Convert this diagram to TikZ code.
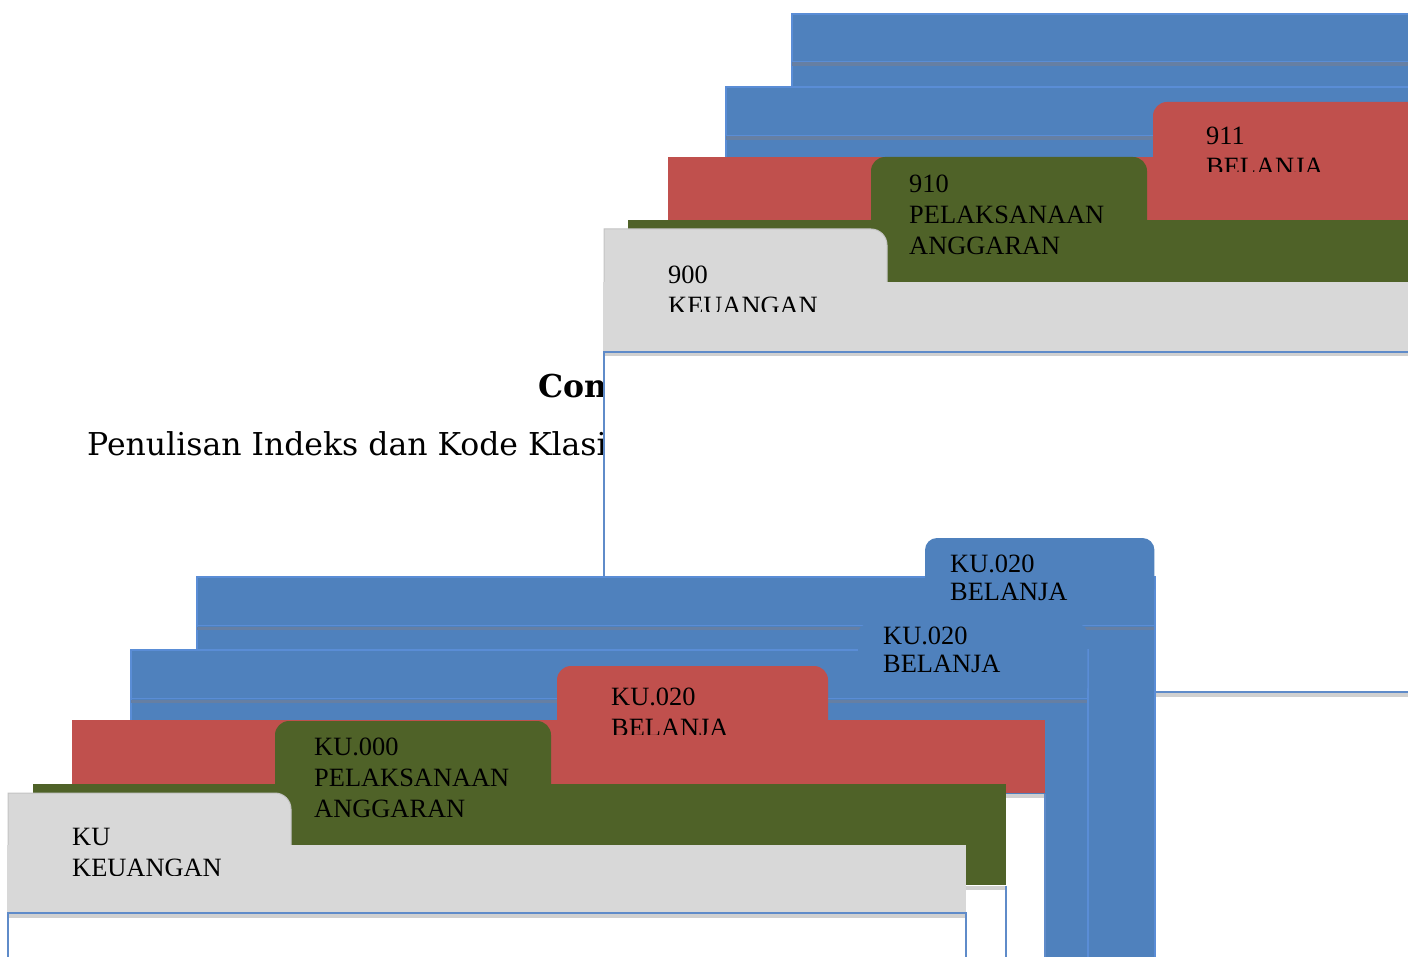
\documentclass[tikz,border=0pt]{standalone}
\usepackage{fontspec}
\setmainfont{Liberation Serif}
\newfontfamily\headfont{DejaVu Serif}
\definecolor{fblue}{HTML}{4F81BD}
\definecolor{fblueedge}{HTML}{5A8DD6}
\definecolor{fbluerule}{HTML}{667FA3}
\definecolor{fred}{HTML}{C0504D}
\definecolor{fgreen}{HTML}{4F6228}
\definecolor{fgray}{HTML}{D8D8D8}
\definecolor{fgrayedge}{HTML}{C3C3C3}
\definecolor{fshadow}{HTML}{D0D0D0}
\definecolor{boxline}{HTML}{5F8BC9}
\tikzset{
  lbl/.style={anchor=north west, inner sep=0pt, align=left, text=black,
    font=\fontsize{26.4}{30.8}\selectfont},
  lbltight/.style={lbl, font=\fontsize{26.4}{28}\selectfont},
  headtxt/.style={anchor=base west, inner sep=0pt, text=black,
    font=\headfont\fontsize{31.5}{36}\selectfont},
  headbold/.style={anchor=base west, inner sep=0pt, text=black,
    font=\headfont\bfseries\fontsize{31.5}{36}\selectfont},
  whitebox/.style={fill=white, draw=boxline, line width=1.6pt},
  shadowstrip/.style={fill=fshadow},
  bluefold/.style={fill=fblue, draw=fblueedge, line width=1.2pt},
  blueedge/.style={draw=fblueedge, line width=1.2pt},
  bluerule/.style={fill=fbluerule},
  tabround/.style={rounded corners=14pt},
  graytab/.style={fill=fgray, draw=fgrayedge, line width=1pt}
}
\begin{document}
\begin{tikzpicture}[x=1pt,y=-1pt]
\useasboundingbox (0,0) rectangle (1408,957);
\clip (0,0) rectangle (1408,957);

% ---------- background text ----------
\node[headbold] (con) at (538,398) {Con};
\node[headtxt] (intro) at (87,455) {Penulisan Indeks dan Kode Klasi};

% ---------- upper group (900 series) ----------
\path[bluefold] (792,14) rectangle (1440,420);
\path[blueedge] (792,61.5) -- (1440,61.5);
\fill[bluerule] (792,62.5) rectangle (1440,66);
\path[bluefold] (726,87) rectangle (1440,420);
\path[blueedge] (726,135.5) -- (1440,135.5);
\fill[bluerule] (726,136.5) rectangle (1440,140);
% red
\fill[fred, tabround] (1153,102) rectangle (1470,200);
\fill[fred] (668,157) rectangle (1440,235);
% green
\fill[fgreen, tabround] (871,157) rectangle (1147,250);
\fill[fgreen] (628,220) rectangle (1440,290);
% white part of the front folder
\path[whitebox] (604,352) rectangle (1450,692);
\fill[shadowstrip] (605,353) rectangle (1450,356);
\fill[shadowstrip] (1156,693) rectangle (1450,697);
% gray front
\path[graytab] (604,300) -- (604,229) -- (871,229)
  .. controls (879.8,229) and (887,236.2) .. (887,245) -- (887,300) -- cycle;
\fill[fgray] (603.4,282) rectangle (1450,351);

% labels of the upper group
\begin{scope}
  \clip (1190,95) rectangle (1408,172);
  \node[lbl] (t911) at (1206,127) {911\\BELANJA};
\end{scope}
\node[lbl] (t910) at (909,175) {910\\PELAKSANAAN\\ANGGARAN};
\begin{scope}
  \clip (650,250) rectangle (900,312);
  \node[lbl] (t900) at (668,266) {900\\KEUANGAN};
\end{scope}

% ---------- lower group (KU series) ----------
% blue 1
\path[bluefold] (197,577) rectangle (1155,1000);
\path[blueedge] (197,625.5) -- (1155,625.5);
\fill[bluerule] (197,626.5) rectangle (1154.4,630);
\fill[fblue, rounded corners=12pt] (925,538) rectangle (1154.4,600);
\node[lbltight] (ku020a) at (950,555) {KU.020\\BELANJA};
% blue 2
\path[bluefold] (131,650) rectangle (1088,1000);
\fill[fblue, rounded corners=10pt] (858,624) rectangle (1087.4,697);
\path[blueedge] (131,698.5) -- (1088,698.5);
\fill[bluerule] (131,699.5) rectangle (1087.4,703);
\node[lbltight] (ku020b) at (883,627) {KU.020\\BELANJA};
% red
\path[whitebox] (72,795) rectangle (1045,1000);
\fill[shadowstrip] (73,794) rectangle (1044.2,798);
\fill[fred, tabround] (557,666) rectangle (828,740);
\fill[fred] (72,720) rectangle (1045,793);
\begin{scope}
  \clip (590,670) rectangle (840,734);
  \node[lbl] (ku020c) at (611,688) {KU.020\\BELANJA};
\end{scope}
% green
\path[whitebox] (33,887) rectangle (1006,1000);
\fill[shadowstrip] (34,886) rectangle (1005.2,890);
\fill[fgreen, tabround] (275,721) rectangle (551,800);
\fill[fgreen] (33,784) rectangle (1006,885);
\node[lbl] (ku000) at (314,738) {KU.000\\PELAKSANAAN\\ANGGARAN};
% gray front
\path[whitebox] (8,913) rectangle (966,1000);
\fill[shadowstrip] (9,914) rectangle (965.2,918);
\path[graytab] (8,860) -- (8,793) -- (275,793)
  .. controls (283.8,793) and (291,800.2) .. (291,809) -- (291,860) -- cycle;
\fill[fgray] (7.4,845) rectangle (966,912);
\begin{scope}
  \clip (50,810) rectangle (300,875);
  \node[lbl] (ku) at (72,828) {KU\\KEUANGAN};
\end{scope}
\end{tikzpicture}
\end{document}
